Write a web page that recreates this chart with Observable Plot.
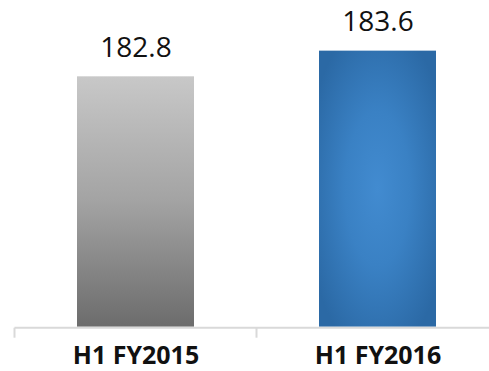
<!DOCTYPE html>
<html>
<head>
<meta charset="utf-8">
<script src="https://cdn.jsdelivr.net/npm/d3@7"></script>
<script src="https://cdn.jsdelivr.net/npm/@observablehq/plot@0.6"></script>
<style>
  html, body { margin: 0; padding: 0; background: #fff; }
  #chart svg { display: block; }
</style>
</head>
<body>
<div id="chart"></div>
<script>
const categories = ["H1 FY2015", "H1 FY2016"];
const values = [182.8, 183.6];
const valueLabels = ["182.8", "183.6"];
const fills = ["url(#grayGrad)", "url(#blueGrad)"];
const yDomain = [175, 185];

const data = categories.map((c, i) => ({cat: c, value: values[i], label: valueLabels[i], fill: fills[i]}));

const ns = "http://www.w3.org/2000/svg";
function defsMark() {
  const defs = document.createElementNS(ns, "defs");
  defs.innerHTML = `
    <linearGradient id="grayGrad" x1="0" y1="0" x2="0" y2="1">
      <stop offset="0" stop-color="#c8c8c8"/>
      <stop offset="0.5" stop-color="#a3a3a3"/>
      <stop offset="1" stop-color="#6c6c6c"/>
    </linearGradient>
    <radialGradient id="blueGrad" cx="0.5" cy="0.5" r="0.62">
      <stop offset="0" stop-color="#428bd0"/>
      <stop offset="0.45" stop-color="#3a81c4"/>
      <stop offset="1" stop-color="#2b69a5"/>
    </radialGradient>`;
  return defs;
}

function axisMark(index, scales) {
  const g = document.createElementNS(ns, "g");
  const x = scales.x, y = scales.y;
  const step = x.step();
  const y0 = y(yDomain[0]) + 1;
  const left = x(categories[0]) - (step - x.bandwidth()) / 2;
  const right = x(categories[categories.length - 1]) + x.bandwidth() + (step - x.bandwidth()) / 2;
  const line = document.createElementNS(ns, "line");
  line.setAttribute("x1", left); line.setAttribute("x2", right);
  line.setAttribute("y1", y0); line.setAttribute("y2", y0);
  line.setAttribute("stroke", "#d9d9d9"); line.setAttribute("stroke-width", 2);
  g.appendChild(line);
  for (let i = 0; i <= categories.length; i++) {
    const tx = left + i * step;
    const t = document.createElementNS(ns, "line");
    t.setAttribute("x1", tx); t.setAttribute("x2", tx);
    t.setAttribute("y1", y0); t.setAttribute("y2", y0 + 10);
    t.setAttribute("stroke", "#d9d9d9"); t.setAttribute("stroke-width", 2);
    g.appendChild(t);
  }
  return g;
}

const chart = Plot.plot({
  width: 489,
  height: 371,
  marginTop: 0,
  marginBottom: 0,
  marginLeft: 0,
  marginRight: 0,
  style: {fontFamily: "'Open Sans', sans-serif", background: "#fff"},
  x: {domain: categories, range: [15, 499], paddingInner: 0.5165, paddingOuter: 0.258, axis: null},
  y: {domain: yDomain, range: [326.7, 5.7], axis: null},
  marks: [
    defsMark,
    Plot.barY(data, {x: "cat", y1: yDomain[0], y2: "value", fill: "fill"}),
    axisMark,
    Plot.text(data, {x: "cat", y: "value", text: "label", lineAnchor: "bottom", dy: -20, fontSize: 28, fill: "#111"}),
    Plot.text(data, {x: "cat", frameAnchor: "bottom", text: "cat", lineAnchor: "bottom", dy: -8, fontSize: 25, fontWeight: "bold", fill: "#111"})
  ]
});
document.getElementById("chart").appendChild(chart);
</script>
</body>
</html>
